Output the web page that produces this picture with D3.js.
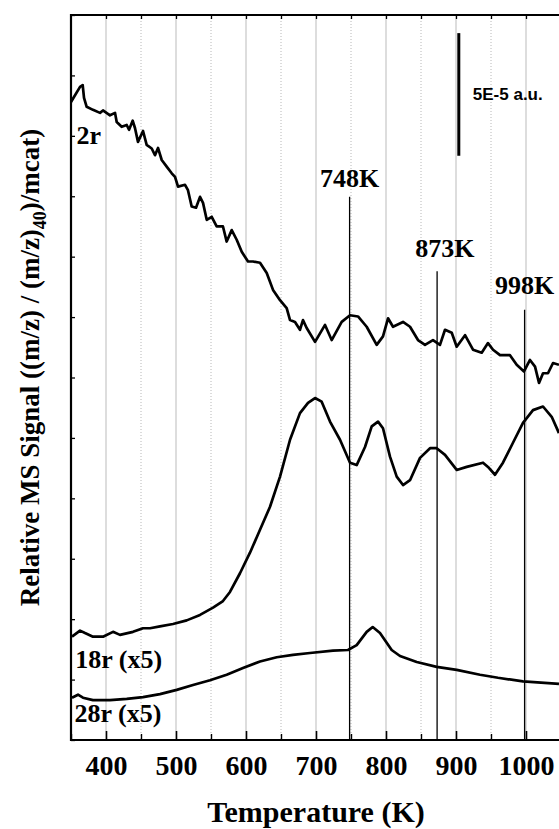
<!DOCTYPE html>
<html>
<head>
<meta charset="utf-8">
<script src="https://cdn.jsdelivr.net/npm/d3@7"></script>
<style>
  html, body { margin: 0; padding: 0; background: #fff; }
  svg { display: block; }
</style>
</head>
<body>
<script>
// ---------- DATA (temperature in K, signal in relative units; 1 unit = 2.5E-5 a.u.) ----------
const temp2r = [350,362.9,366.7,368.6,372.4,381.4,391.4,395.7,405.7,412.9,415.3,422.4,429.6,432.9,438.1,441.4,445.7,452.9,458.1,465.3,470,474.3,479.6,486.7,493.9,498.6,502.9,512.9,517.1,522.4,528.6,534.3,538.6,543.9,551,558.1,567.1,572.4,579.6,586.7,593.9,602.9,610,620,629.6,638.6,648.6,658.1,662.9,670,677.1,681.4,686.7,698.6,712.9,722.4,736.7,748.6,760,772.4,786.7,795.7,802.9,810,824.3,834.3,845.7,855.7,867.1,877.1,884.3,893.9,901,912.9,924.3,936.7,945.7,952.9,962.9,977.1,986.7,997.1,1005.7,1012.9,1018.6,1024.3,1031.4,1038.6,1047.1];
const sig2r = [10.56,10.81,10.84,10.63,10.48,10.43,10.38,10.42,10.34,10.38,10.23,10.15,10.18,10.10,10.25,10.13,9.90,10.08,9.85,9.79,9.68,9.80,9.60,9.49,9.38,9.32,9.16,9.19,9.10,8.83,8.81,8.99,8.89,8.61,8.66,8.50,8.50,8.25,8.44,8.28,8.08,7.92,7.92,7.90,7.73,7.45,7.28,7.15,6.95,6.92,6.79,6.95,6.82,6.59,6.87,6.62,6.92,7.03,7.01,6.84,6.54,6.68,6.98,6.84,6.92,6.84,6.62,6.54,6.62,6.54,6.79,6.74,6.51,6.70,6.46,6.41,6.57,6.46,6.37,6.37,6.21,6.10,6.29,6.18,5.91,6.07,6.07,6.24,6.21];

const temp18r = [351.4,362.9,370,381.4,395.7,410,420,438.6,452.9,462.9,477.1,495.7,515.3,534.3,552.9,567.1,577.1,591.4,605.7,620,634.3,648.6,662.9,677.1,688.6,698.6,708.1,720,734.3,748.6,758.1,770,779.6,788.6,795.7,805.7,815.3,824.3,834.3,848.6,862.9,872.4,884.3,901,915.3,938.6,945.7,955.7,967.1,981.4,995.7,1010,1024.3,1036.7,1047.1];
const sig18r = [1.71,1.81,1.77,1.71,1.71,1.79,1.74,1.79,1.85,1.85,1.88,1.92,1.98,2.07,2.19,2.30,2.45,2.76,3.10,3.48,3.86,4.36,4.97,5.41,5.58,5.66,5.60,5.27,4.97,4.59,4.55,4.85,5.19,5.27,5.16,4.69,4.36,4.22,4.30,4.67,4.83,4.83,4.72,4.47,4.52,4.59,4.52,4.39,4.59,4.92,5.25,5.46,5.52,5.35,5.08];

const temp28r = [351.4,360,367.1,381.4,405.7,429.6,452.9,477.1,501,524.3,548.6,572.4,595.7,620,643.9,667.1,691.4,724.3,745.7,758.1,772.4,781,791.4,808.1,820,843.9,872.4,901,934.3,960,995.7,1047.1];
const sig28r = [0.70,0.75,0.70,0.66,0.66,0.68,0.71,0.76,0.83,0.91,0.99,1.08,1.19,1.30,1.37,1.41,1.44,1.48,1.49,1.57,1.79,1.87,1.77,1.49,1.39,1.29,1.21,1.16,1.08,1.03,0.97,0.93];

const seriesNames = ["2r", "18r (x5)", "28r (x5)"];

const peakTemps = [748, 873, 998];
const peakLabels = ["748K", "873K", "998K"];
const peakLineTops = [8.99, 7.76, 7.12];

const xTickValues = [400, 500, 600, 700, 800, 900, 1000];
const xMinorTickValues = [350, 450, 550, 650, 750, 850, 950, 1050];
const yTickValues = [0,1,2,3,4,5,6,7,8,9,10,11,12];

const scaleBarLabel = "5E-5 a.u.";
const scaleBarRange = [9.67, 11.70];
const scaleBarTemp = 904;

// ---------- LAYOUT ----------
const W = 559, H = 829;
const serif = "'Liberation Serif', 'Times New Roman', Times, serif";
const sans = "'Liberation Sans', Arial, Helvetica, sans-serif";

const svg = d3.select("body").append("svg").attr("width", W).attr("height", H);

const x = d3.scaleLinear().domain([350, 1050]).range([71, 561]);
const y = d3.scaleLinear().domain([0, 12]).range([740, 15]);

const yTop = y.range()[1], yBottom = y.range()[0];

// grid lines
const allGrid = d3.range(400, 1051, 50);
svg.append("g").selectAll("line").data(allGrid).join("line")
  .attr("x1", d => x(d)).attr("x2", d => x(d))
  .attr("y1", yTop).attr("y2", yBottom)
  .attr("stroke", d => d % 100 === 0 ? "#cfcfcf" : "#b8b8b8")
  .attr("stroke-width", d => d % 100 === 0 ? 1.4 : 1)
  .attr("stroke-dasharray", d => d % 100 === 0 ? null : "1,2");

// clip
svg.append("defs").append("clipPath").attr("id", "plotclip")
  .append("rect").attr("x", 71).attr("y", yTop).attr("width", 600).attr("height", yBottom - yTop);

// peak marker lines
svg.append("g").selectAll("line").data(peakTemps).join("line")
  .attr("x1", d => x(d)).attr("x2", d => x(d))
  .attr("y1", (d, i) => y(peakLineTops[i])).attr("y2", yBottom)
  .attr("stroke", "#000").attr("stroke-width", 1.3);

// curves
const line = d3.line().x(d => x(d[0])).y(d => y(d[1]));
const curves = [
  d3.zip(temp2r, sig2r),
  d3.zip(temp18r, sig18r),
  d3.zip(temp28r, sig28r)
];
svg.append("g").attr("clip-path", "url(#plotclip)").selectAll("path").data(curves).join("path")
  .attr("d", line)
  .attr("fill", "none")
  .attr("stroke", "#000")
  .attr("stroke-width", 2.7)
  .attr("stroke-linejoin", "round");

// axes
const xAxisMajor = d3.axisBottom(x).tickValues(xTickValues).tickSizeInner(-9).tickSizeOuter(0).tickFormat(d3.format("d")).tickPadding(15);
const gx = svg.append("g").attr("transform", `translate(0,${yBottom})`).call(xAxisMajor);
gx.select(".domain").remove();
gx.selectAll(".tick line").attr("stroke", "#000").attr("stroke-width", 1.6);
gx.selectAll(".tick text").attr("font-family", serif).attr("font-weight", "bold").attr("font-size", 28).attr("fill", "#000");

const xAxisMinor = d3.axisBottom(x).tickValues(xMinorTickValues).tickSizeInner(-6).tickSizeOuter(0).tickFormat("");
const gxm = svg.append("g").attr("transform", `translate(0,${yBottom})`).call(xAxisMinor);
gxm.select(".domain").remove();
gxm.selectAll(".tick line").attr("stroke", "#000").attr("stroke-width", 1.4);

// top axis ticks
const xAxisTop = d3.axisTop(x).tickValues(allGrid).tickSizeInner(-4).tickSizeOuter(0).tickFormat("");
const gxt = svg.append("g").attr("transform", `translate(0,${yTop})`).call(xAxisTop);
gxt.select(".domain").remove();
gxt.selectAll(".tick line").attr("stroke", "#000").attr("stroke-width", 1.3);

// left axis ticks
const yAxis = d3.axisLeft(y).tickValues(yTickValues).tickSizeInner(-4).tickSizeOuter(0).tickFormat("");
const gy = svg.append("g").attr("transform", `translate(${x(350)},0)`).call(yAxis);
gy.select(".domain").remove();
gy.selectAll(".tick line").attr("stroke", "#000").attr("stroke-width", 1.3);

// spines
svg.append("line").attr("x1", x(350)).attr("x2", x(350)).attr("y1", yTop - 1).attr("y2", yBottom + 1)
  .attr("stroke", "#000").attr("stroke-width", 2.2);
svg.append("line").attr("x1", x(350) - 1).attr("x2", W + 5).attr("y1", yBottom).attr("y2", yBottom)
  .attr("stroke", "#000").attr("stroke-width", 2.2);
svg.append("line").attr("x1", x(350) - 1).attr("x2", W + 5).attr("y1", yTop).attr("y2", yTop)
  .attr("stroke", "#000").attr("stroke-width", 2.2);

// peak labels
const peakLabelTemps = [748, 884, 998];
const peakLabelY = [9.16, 8.0, 7.38];
svg.append("g").selectAll("text").data(peakLabels).join("text")
  .attr("x", (d, i) => x(peakLabelTemps[i]))
  .attr("y", (d, i) => y(peakLabelY[i]))
  .attr("text-anchor", "middle")
  .attr("font-family", serif).attr("font-weight", "bold").attr("font-size", 26)
  .text(d => d);

// series labels
const seriesLabelPos = [[358, 9.86], [356, 1.19], [355, 0.30]];
svg.append("g").selectAll("text").data(seriesNames).join("text")
  .attr("x", (d, i) => x(seriesLabelPos[i][0]))
  .attr("y", (d, i) => y(seriesLabelPos[i][1]))
  .attr("font-family", serif).attr("font-weight", "bold").attr("font-size", 26)
  .text(d => d);

// scale bar
svg.append("line")
  .attr("x1", x(scaleBarTemp)).attr("x2", x(scaleBarTemp))
  .attr("y1", y(scaleBarRange[1])).attr("y2", y(scaleBarRange[0]))
  .attr("stroke", "#000").attr("stroke-width", 3);
svg.append("text")
  .attr("x", x(scaleBarTemp) + 14).attr("y", y((scaleBarRange[0] + scaleBarRange[1]) / 2) + 6)
  .attr("font-family", sans).attr("font-weight", "bold").attr("font-size", 17)
  .text(scaleBarLabel);

// axis titles
svg.append("text")
  .attr("x", (x(350) + x(1050)) / 2).attr("y", 822)
  .attr("text-anchor", "middle")
  .attr("font-family", serif).attr("font-weight", "bold").attr("font-size", 30)
  .text("Temperature (K)");

const yl = svg.append("text")
  .attr("transform", `translate(39,${(yTop + yBottom) / 2 - 10}) rotate(-90)`)
  .attr("text-anchor", "middle")
  .attr("font-family", serif).attr("font-weight", "bold").attr("font-size", 27);
yl.append("tspan").text("Relative MS Signal ((m/z) / (m/z)");
yl.append("tspan").attr("font-size", 18).attr("dy", 7).text("40");
yl.append("tspan").attr("dy", -7).text(")/mcat)");
</script>
</body>
</html>
